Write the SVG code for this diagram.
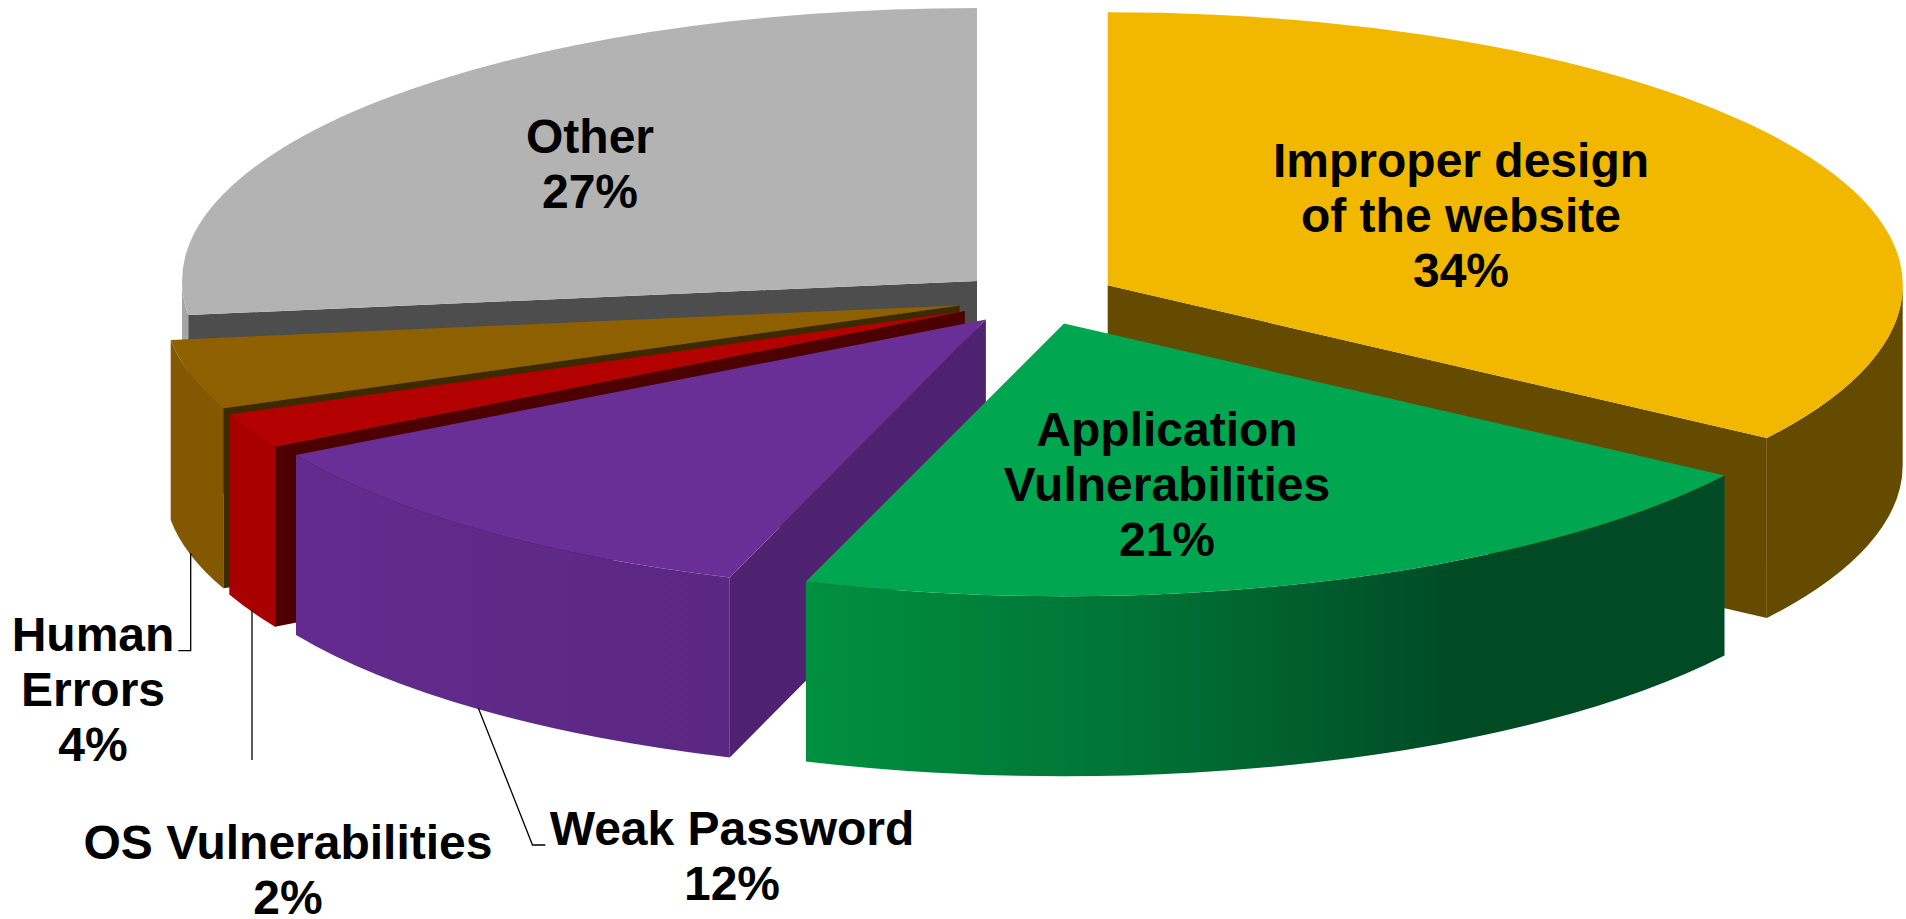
<svg xmlns="http://www.w3.org/2000/svg" width="1906" height="919" viewBox="0 0 1906 919">
<style>
.lbl{font-family:"Liberation Sans",Arial,sans-serif;font-weight:bold;font-size:48px;fill:#000;text-anchor:middle}
.lead{fill:none;stroke:#000;stroke-width:1.3}
</style>
<defs>
<linearGradient id="gWall" gradientUnits="userSpaceOnUse" x1="806" y1="0" x2="1724" y2="0">
<stop offset="0" stop-color="#00903f"/>
<stop offset="0.35" stop-color="#007436"/>
<stop offset="0.72" stop-color="#004a24"/>
<stop offset="1" stop-color="#004b25"/>
</linearGradient>
<linearGradient id="pWall" gradientUnits="userSpaceOnUse" x1="296" y1="0" x2="730" y2="0">
<stop offset="0" stop-color="#642b8e"/>
<stop offset="1" stop-color="#5a2782"/>
</linearGradient>
</defs>
<rect width="1906" height="919" fill="#fff"/>

<g id="slice-other">
<path d="M188.3,315 A795,273 0 0 1 182,280.9 L182,460.9 A795,273 0 0 0 188.3,495 Z" fill="#a6a6a6"/>
<path d="M977,280.9 L188.3,315 L188.3,495 L977,460.9 Z" fill="#4d4d4d"/>
<path d="M977,280.9 L188.3,315 A795,273 0 0 1 977,7.9 Z" fill="#b3b3b3"/>
<text class="lbl" x="590" y="153">Other</text>
<text class="lbl" x="590" y="208">27%</text>
</g>

<g id="slice-improper-design">
<path d="M1107.7,285.3 L1766.8,438 L1766.8,618 L1107.7,465.3 Z" fill="#654b00"/>
<path d="M1902.7,285.3 A795,273 0 0 1 1766.8,438 L1766.8,618 A795,273 0 0 0 1902.7,465.3 Z" fill="#654b00"/>
<path d="M1107.7,285.3 L1107.7,12.3 A795,273 0 0 1 1766.8,438 Z" fill="#f2b800"/>
<text class="lbl" x="1461" y="177">Improper design</text>
<text class="lbl" x="1461" y="232">of the website</text>
<text class="lbl" x="1461" y="287">34%</text>
</g>

<g id="slice-human-errors">
<path d="M959.6,305.4 L223.3,408.3 L223.3,588.3 L959.6,485.4 Z" fill="#3e2a00"/>
<path d="M223.3,408.3 A795,273 0 0 1 170.7,340 L170.7,520 A795,273 0 0 0 223.3,588.3 Z" fill="#835800"/>
<path d="M959.6,305.4 L223.3,408.3 A795,273 0 0 1 170.7,340 Z" fill="#8f6000"/>
<text class="lbl" x="93" y="651">Human</text>
<text class="lbl" x="93" y="706">Errors</text>
<text class="lbl" x="93" y="761">4%</text>
</g>

<g id="slice-os-vulnerabilities">
<path d="M964.8,311 L275,446.7 L275,626.7 L964.8,491 Z" fill="#4c0000"/>
<path d="M275,446.7 A795,273 0 0 1 229.3,414.6 L229.3,594.6 A795,273 0 0 0 275,626.7 Z" fill="#a80000"/>
<path d="M964.8,311 L275,446.7 A795,273 0 0 1 229.3,414.6 Z" fill="#b30000"/>
<text class="lbl" x="288" y="859">OS Vulnerabilities</text>
<text class="lbl" x="288" y="914">2%</text>
</g>

<g id="slice-weak-password">
<path d="M985.9,319.4 L729.8,577.4 L729.8,757.4 L985.9,499.4 Z" fill="#4f2271"/>
<path d="M729.8,577.4 A795,273 0 0 1 296,455 L296,635 A795,273 0 0 0 729.8,757.4 Z" fill="url(#pWall)"/>
<path d="M985.9,319.4 L729.8,577.4 A795,273 0 0 1 296,455 Z" fill="#6a2f96"/>
<text class="lbl" x="732" y="845">Weak Password</text>
<text class="lbl" x="732" y="900">12%</text>
</g>

<g id="slice-application-vulnerabilities">
<path d="M1724.5,475.5 A795,273 0 0 1 805.9,581.5 L805.9,761.5 A795,273 0 0 0 1724.5,655.5 Z" fill="url(#gWall)"/>
<path d="M1064,323.5 L1724.5,475.5 A795,273 0 0 1 805.9,581.5 Z" fill="#00a650"/>
<text class="lbl" x="1167" y="446">Application</text>
<text class="lbl" x="1167" y="501">Vulnerabilities</text>
<text class="lbl" x="1167" y="556">21%</text>
</g>

<g id="connectors">
<polyline class="lead" points="190.7,553 190.7,650.7 178.3,650.7"/>
<polyline class="lead" points="252,610 252,760"/>
<polyline class="lead" points="478.3,708 532.5,845 545.3,845"/>
</g>
</svg>
